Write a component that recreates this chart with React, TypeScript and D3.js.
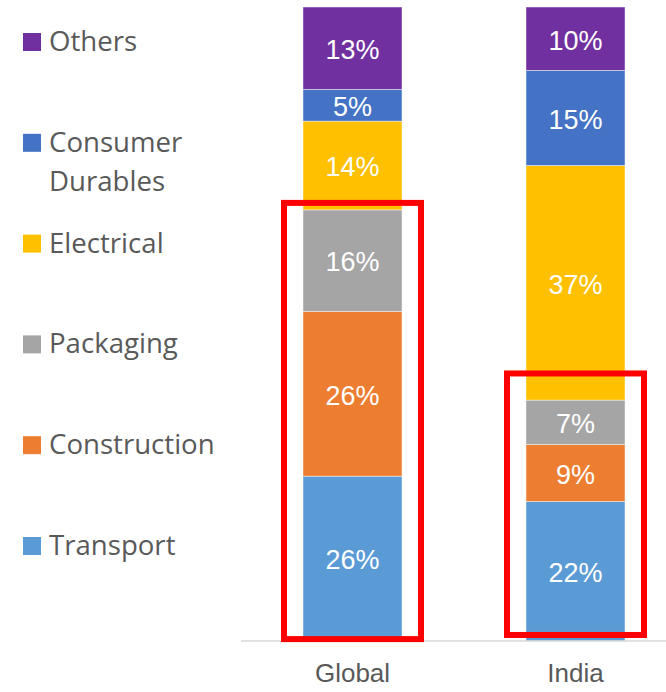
import React from "react";
import * as d3 from "d3";

const categories = ["Global", "India"];
const seriesNames = ["Transport", "Construction", "Packaging", "Electrical", "Consumer Durables", "Others"];
const transport = [26, 22];
const construction = [26, 9];
const packaging = [16, 7];
const electrical = [14, 37];
const consumerDurables = [5, 15];
const others = [13, 10];
const colors = ["#5B9BD5", "#ED7D31", "#A5A5A5", "#FFC000", "#4472C4", "#7030A0"];
// highlight boxes per category: top and bottom in %
const highlightTop = [69.1, 42.2];
const highlightBottom = [0.3, 0.95];

const W = 666;
const H = 692;

export default function App() {
  const seriesValues = [transport, construction, packaging, electrical, consumerDurables, others];
  const table = categories.map((c, i) => {
    const row: any = { cat: c };
    seriesNames.forEach((s, j) => (row[s] = seriesValues[j][i]));
    return row;
  });
  const stack = d3.stack<any>().keys(seriesNames)(table);

  const x = d3.scaleBand().domain(categories).range([241, 687]).paddingInner(0.556).paddingOuter(0.278);
  const y = d3.scaleLinear().domain([0, 100]).range([641, 7]);
  const bw = x.bandwidth();

  const legendY = d3.scalePoint().domain([...seriesNames].reverse()).range([42, 546]);

  return (
    <svg width={W} height={H} style={{ position: "absolute", left: 0, top: 0 }}>
      <rect width={W} height={H} fill="#fff" />
      {stack.map((layer, j) => (
        <g key={layer.key}>
          {layer.map((d, i) => {
            const x0 = x(categories[i])!;
            const y0 = y(d[1]);
            const h = y(d[0]) - y(d[1]);
            return (
              <g key={i}>
                <rect x={x0} y={y0} width={bw} height={h} fill={colors[j]} stroke="#ffffff" strokeOpacity={0.6} strokeWidth={0.75} />
                <text
                  x={x0 + bw / 2}
                  y={y0 + h / 2}
                  dy="0.4em"
                  textAnchor="middle"
                  fill="#fff"
                  fontFamily="'Liberation Sans', Arial, sans-serif"
                  fontSize={27}
                >
                  {d[1] - d[0]}%
                </text>
              </g>
            );
          })}
        </g>
      ))}
      <line x1={241} x2={W} y1={641} y2={641} stroke="#D9D9D9" strokeWidth={1.5} />
      {categories.map((c) => (
        <text
          key={c}
          x={x(c)! + bw / 2}
          y={682}
          textAnchor="middle"
          fill="#595959"
          fontFamily="'Liberation Sans', Arial, sans-serif"
          fontSize={26}
        >
          {c}
        </text>
      ))}
      {categories.map((c, i) => (
        <rect
          key={"hl" + c}
          x={x(c)! - 19}
          y={y(highlightTop[i])}
          width={bw + 38}
          height={y(highlightBottom[i]) - y(highlightTop[i])}
          fill="none"
          stroke="#FF0000"
          strokeWidth={6}
        />
      ))}
      {seriesNames.map((s, j) => {
        const cy = legendY(s)!;
        const words = s === "Consumer Durables" ? ["Consumer", "Durables"] : [s];
        return (
          <g key={"lg" + s}>
            <rect x={23} y={cy - 9} width={18} height={18} fill={colors[j]} />
            <text x={49} y={cy + 9} fill="#595959" fontFamily="'Open Sans', sans-serif" fontSize={27.6}>
              {words.map((w, k) => (
                <tspan key={k} x={49} dy={k === 0 ? 0 : 39}>
                  {w}
                </tspan>
              ))}
            </text>
          </g>
        );
      })}
    </svg>
  );
}
